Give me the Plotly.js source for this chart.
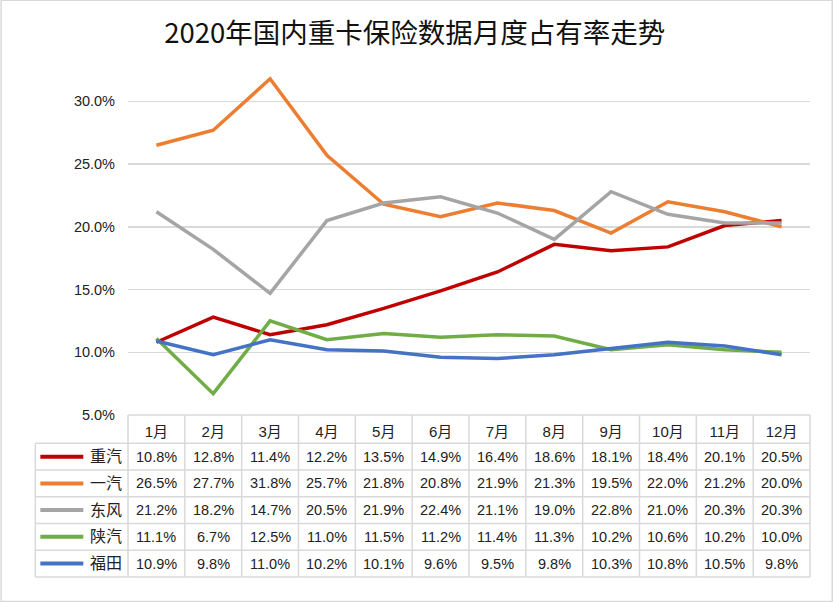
<!DOCTYPE html>
<html>
<head>
<meta charset="utf-8">
<script src="https://cdn.plot.ly/plotly-3.0.1.min.js"></script>
<style>
html,body{margin:0;padding:0;background:#fff;}
#chart{width:833px;height:602px;}
</style>
</head>
<body>
<div id="chart"></div>
<script>
var months = ["1月","2月","3月","4月","5月","6月","7月","8月","9月","10月","11月","12月"];
var seriesNames = ["重汽","一汽","东风","陕汽","福田"];
var zhongqi = [10.8,12.8,11.4,12.2,13.5,14.9,16.4,18.6,18.1,18.4,20.1,20.5];
var yiqi    = [26.5,27.7,31.8,25.7,21.8,20.8,21.9,21.3,19.5,22.0,21.2,20.0];
var dongfeng= [21.2,18.2,14.7,20.5,21.9,22.4,21.1,19.0,22.8,21.0,20.3,20.3];
var shanqi  = [11.1,6.7,12.5,11.0,11.5,11.2,11.4,11.3,10.2,10.6,10.2,10.0];
var futian  = [10.9,9.8,11.0,10.2,10.1,9.6,9.5,9.8,10.3,10.8,10.5,9.8];
var seriesValues = [zhongqi, yiqi, dongfeng, shanqi, futian];
var colors = ["#C00000","#ED7D31","#A5A5A5","#70AD47","#4472C4"];

var FW = 833, FH = 602;
var L = 127.7, R = 810, T = 70.4, B = 415;
var W = R - L, H = B - T;
function px2x(p){ return (p - L) / W; }
function px2y(p){ return (B - p) / H; }

var FONT = "Liberation Sans, Noto Sans CJK SC, sans-serif";
var gridCol = "#D9D9D9";

var traces = seriesNames.map(function(n, i){
  return {
    type: "scatter", mode: "lines", name: n,
    x: months, y: seriesValues[i],
    line: {color: colors[i], width: 3.5},
    hoverinfo: "x+y+name"
  };
});

var rowEdges = [415, 443.3, 470, 496.7, 523.3, 550, 576.7];
var shapes = [];
var annotations = [];

// outer chart border
shapes.push({type:"rect", xref:"paper", yref:"paper",
  x0: px2x(0.75), x1: px2x(FW-0.75), y0: px2y(0.75), y1: px2y(FH-0.75),
  line:{color:gridCol, width:1.5}, fillcolor:"rgba(0,0,0,0)", layer:"below"});

// table horizontal lines
shapes.push({type:"line", xref:"paper", yref:"paper", x0: px2x(L), x1: px2x(R), y0: px2y(415), y1: px2y(415), line:{color:gridCol, width:1.5}});
for (var r = 1; r < rowEdges.length; r++) {
  shapes.push({type:"line", xref:"paper", yref:"paper", x0: px2x(35), x1: px2x(R), y0: px2y(rowEdges[r]), y1: px2y(rowEdges[r]), line:{color:gridCol, width:1.5}});
}
// table vertical lines
for (var c = 0; c <= months.length; c++) {
  var xp = L + W * c / months.length;
  shapes.push({type:"line", xref:"paper", yref:"paper", x0: px2x(xp), x1: px2x(xp), y0: px2y(415), y1: px2y(576.7), line:{color:gridCol, width:1.5}});
}
shapes.push({type:"line", xref:"paper", yref:"paper", x0: px2x(35), x1: px2x(35), y0: px2y(443.3), y1: px2y(576.7), line:{color:gridCol, width:1.5}});

// legend column + values
for (var s = 0; s < seriesNames.length; s++) {
  var yc = (rowEdges[s+1] + rowEdges[s+2]) / 2;
  shapes.push({type:"line", xref:"paper", yref:"paper", x0: px2x(40), x1: px2x(83), y0: px2y(yc), y1: px2y(yc), line:{color:colors[s], width:4}});
  annotations.push({xref:"paper", yref:"paper", x: px2x(88), y: px2y(yc), xanchor:"left", yanchor:"middle",
    text: seriesNames[s], showarrow:false, font:{family:FONT, size:16, color:"#222"}});
  for (var m = 0; m < months.length; m++) {
    annotations.push({xref:"x", yref:"paper", x: months[m], y: px2y(yc), xanchor:"center", yanchor:"middle",
      text: seriesValues[s][m].toFixed(1) + "%", showarrow:false, font:{family:FONT, size:14.5, color:"#222"}});
  }
}

var layout = {
  width: FW, height: FH, autosize: false,
  paper_bgcolor: "#fff", plot_bgcolor: "#fff",
  margin: {l: L, r: FW - R, t: T, b: FH - B, pad: 0},
  showlegend: false,
  title: {text: "2020年国内重卡保险数据月度占有率走势", x: 0.498, xanchor: "center",
          y: 1 - 33/FH, yanchor: "middle", yref: "container",
          font: {family: "Noto Sans CJK SC, sans-serif", size: 27.5, color: "#111"}},
  xaxis: {type: "category", showgrid: false, zeroline: false, showline: false, ticks: "",
          tickfont: {family: FONT, size: 15, color: "#222"}, ticklabelstandoff: 6,
          range: [-0.5, 11.5], fixedrange: true},
  yaxis: {range: [5, 32.5], dtick: 5, tick0: 5, tickformat: ".1f", ticksuffix: "%",
          showgrid: true, gridcolor: gridCol, gridwidth: 1.5, zeroline: false, showline: false,
          ticks: "", ticklabelstandoff: 12,
          tickfont: {family: FONT, size: 14.5, color: "#222"}, fixedrange: true},
  shapes: shapes,
  annotations: annotations
};

Plotly.newPlot("chart", traces, layout, {displayModeBar: false, staticPlot: true});
</script>
</body>
</html>
